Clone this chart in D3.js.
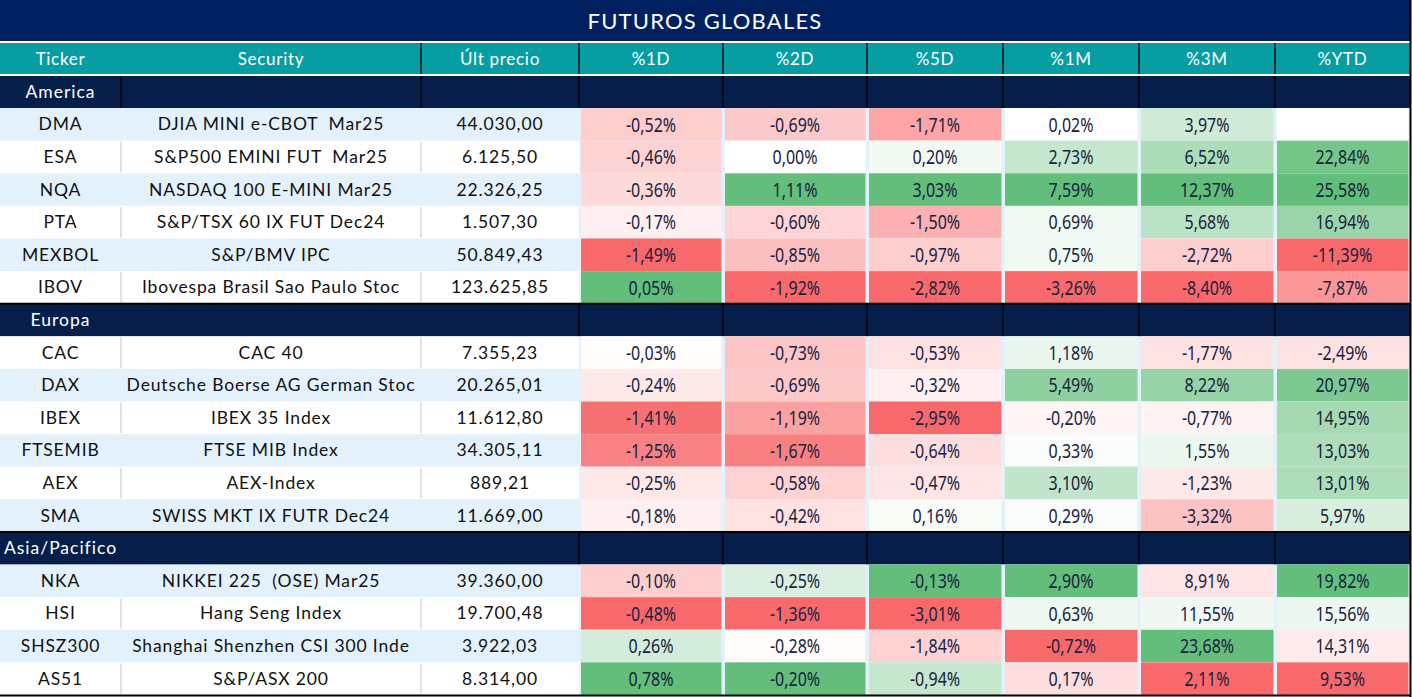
<!DOCTYPE html>
<html><head><meta charset="utf-8">
<script src="https://cdn.jsdelivr.net/npm/d3@7"></script>
<style>body{margin:0;background:#fff} text{white-space:pre}</style>
</head><body>
<svg id="c" width="1412" height="697"></svg>
<script>
const title = "FUTUROS GLOBALES";
const headers = ["Ticker","Security","Últ precio","%1D","%2D","%5D","%1M","%3M","%YTD"];
const groupNames = ["America","Europa","Asia/Pacifico"];
const groupSizes = [6,6,4];
const tickers = ["DMA","ESA","NQA","PTA","MEXBOL","IBOV","CAC","DAX","IBEX","FTSEMIB","AEX","SMA","NKA","HSI","SHSZ300","AS51"];
const securities = ["DJIA MINI e-CBOT  Mar25","S&P500 EMINI FUT  Mar25","NASDAQ 100 E-MINI Mar25","S&P/TSX 60 IX FUT Dec24","S&P/BMV IPC","Ibovespa Brasil Sao Paulo Stoc",
  "CAC 40","Deutsche Boerse AG German Stoc","IBEX 35 Index","FTSE MIB Index","AEX-Index","SWISS MKT IX FUTR Dec24",
  "NIKKEI 225  (OSE) Mar25","Hang Seng Index","Shanghai Shenzhen CSI 300 Inde","S&P/ASX 200"];
const prices = [44030.00,6125.50,22326.25,1507.30,50849.43,123625.85,7355.23,20265.01,11612.80,34305.11,889.21,11669.00,39360.00,19700.48,3922.03,8314.00];
const pct1D = [-0.52,-0.46,-0.36,-0.17,-1.49,0.05,-0.03,-0.24,-1.41,-1.25,-0.25,-0.18,-0.10,-0.48,0.26,0.78];
const pct2D = [-0.69,0.00,1.11,-0.60,-0.85,-1.92,-0.73,-0.69,-1.19,-1.67,-0.58,-0.42,-0.25,-1.36,-0.28,-0.20];
const pct5D = [-1.71,0.20,3.03,-1.50,-0.97,-2.82,-0.53,-0.32,-2.95,-0.64,-0.47,0.16,-0.13,-3.01,-1.84,-0.94];
const pct1M = [0.02,2.73,7.59,0.69,0.75,-3.26,1.18,5.49,-0.20,0.33,3.10,0.29,2.90,0.63,-0.72,0.17];
const pct3M = [3.97,6.52,12.37,5.68,-2.72,-8.40,-1.77,8.22,-0.77,1.55,-1.23,-3.32,8.91,11.55,23.68,2.11];
const pctYTD = [null,22.84,25.58,16.94,-11.39,-7.87,-2.49,20.97,14.95,13.03,13.01,5.97,19.82,15.56,14.31,9.53];
// conditional-format intensity (-1 = full red, 0 = white, 1 = full green)
const heat1D = [-0.34,-0.3,-0.25,-0.1,-1,1, -0.02,-0.15,-0.95,-0.84,-0.16,-0.1, -0.33,-1,0.28,1];
const heat2D = [-0.36,0,1,-0.28,-0.43,-1, -0.38,-0.37,-0.63,-0.85,-0.3,-0.2, 0.24,-1,-0.02,1];
const heat5D = [-0.6,0.08,1,-0.53,-0.33,-1, -0.2,-0.1,-1,-0.22,-0.18,0.05, 1,-1,-0.3,0.37];
const heat1M = [0,0.37,1,0.09,0.09,-1, 0.14,0.72,-0.07,0.04,0.4,0.04, 1,0.11,-1,-0.22];
const heat3M = [0.31,0.53,1,0.44,-0.33,-1, -0.2,0.67,-0.08,0.12,-0.15,-0.4, -0.18,0.1,1,-1];
const heatYTD = [null,0.9,1,0.65,-1,-0.7, -0.2,0.83,0.58,0.52,0.52,0.25, 1,0.12,-0.13,-1];

const pctCols = [pct1D,pct2D,pct5D,pct1M,pct3M,pctYTD];
const heatCols = [heat1D,heat2D,heat5D,heat1M,heat3M,heatYTD];

// ---- layout ----
const colEdges = [0,121,421,579,723,867,1003,1139,1275,1410];
const W = 1410;
const navyTitle = "#002060", navyGroup = "#051F4A", teal = "#069EA3", rowBlue = "#E3F1FC";

const es = d3.formatLocale({decimal:",", thousands:".", grouping:[3], currency:["","€"], minus:"-"});
const fmtPrice = es.format(",.2f");
const fmtPct = v => es.format(".2f")(v) + "%";
const heatColor = d3.scaleLinear().domain([-1,0,1]).range(["#F8696B","#FFFFFF","#63BE7B"]).clamp(true);

// build row list
const rows = [];
let k = 0;
groupNames.forEach((g,gi) => {
  rows.push({type:"group", name:g, gi});
  for (let j=0;j<groupSizes[gi];j++,k++) rows.push({type:"data", i:k, gi, j});
});

const y = d3.scaleBand().domain(d3.range(rows.length)).range([75.5, 695]).padding(0);
const colX = d3.scaleOrdinal().domain(d3.range(9)).range(colEdges.slice(0,9));
const colW = d3.scaleOrdinal().domain(d3.range(9)).range(d3.range(9).map(c => colEdges[c+1]-colEdges[c]));
const cx = c => colX(c) + colW(c)/2;
const bw = y.bandwidth();
const ty = bw/2 - 0.5;

const svg = d3.select("#c");
const textFont = "Lato, 'Open Sans', sans-serif";
const numFont = "'Noto Sans', 'Open Sans', sans-serif";

// title
svg.append("rect").attr("x",0).attr("y",0).attr("width",W).attr("height",41).attr("fill",navyTitle);
svg.append("text").attr("x",W/2).attr("y",20).attr("text-anchor","middle").attr("dominant-baseline","central")
  .attr("fill","#fff").attr("font-family",textFont).attr("font-size",22).attr("letter-spacing",1.2).text(title);

// header
svg.append("rect").attr("x",0).attr("y",43).attr("width",W).attr("height",31).attr("fill",teal);
svg.selectAll("text.h").data(headers).join("text").attr("class","h")
  .attr("x",(d,c)=>cx(c)).attr("y",58).attr("text-anchor","middle").attr("dominant-baseline","central")
  .attr("fill","#fff").attr("font-family",textFont).attr("font-size",17).attr("letter-spacing",0.7).text(d=>d);
svg.selectAll("line.hs").data(d3.range(2,9)).join("line").attr("class","hs")
  .attr("x1",c=>colX(c)).attr("x2",c=>colX(c)).attr("y1",43).attr("y2",74)
  .attr("stroke","#111").attr("stroke-width",1.5);

// rows
const rg = svg.selectAll("g.row").data(rows).join("g").attr("class","row")
  .attr("transform",(d,r)=>`translate(0,${y(r)})`);

// group rows
const gr = rg.filter(d=>d.type==="group");
gr.append("rect").attr("x",0).attr("y",d=>d.gi===0?0.5:0).attr("width",W).attr("height",d=>d.gi===0?bw-0.5:bw).attr("fill",navyGroup);
gr.filter(d=>d.gi>0).append("rect").attr("x",0).attr("y",-1).attr("width",W).attr("height",2).attr("fill","#000");
gr.each(function(d){
  const edges = d.gi===0 ? [1,2,3,4,5,6,7,8] : [3,4,5,6,7,8];
  d3.select(this).selectAll("line").data(edges).join("line")
    .attr("x1",c=>colX(c)).attr("x2",c=>colX(c)).attr("y1",d.gi===0?0.5:1).attr("y2",bw)
    .attr("stroke","#000").attr("stroke-width",1.3);
});
gr.append("text").attr("x",cx(0)).attr("y",ty).attr("text-anchor","middle").attr("dominant-baseline","central")
  .attr("fill","#fff").attr("font-family",textFont).attr("font-size",17.5).attr("letter-spacing",1).text(d=>d.name);

// data rows
const dr = rg.filter(d=>d.type==="data");
dr.append("rect").attr("x",0).attr("y",0).attr("width",colEdges[3]).attr("height",bw)
  .attr("fill",d=> d.j%2===0 ? (d.gi===1 ? "#fff" : rowBlue) : (d.gi===1 ? rowBlue : "#fff"));
dr.append("rect").attr("x",colEdges[3]).attr("y",0).attr("width",W-colEdges[3]).attr("height",bw).attr("fill",rowBlue);
dr.filter(d => (d.gi===1) === (d.j%2===0)).selectAll("line.sep").data([1,2]).join("line").attr("class","sep")
  .attr("x1",c=>colX(c)).attr("x2",c=>colX(c)).attr("y1",1).attr("y2",bw-1)
  .attr("stroke","#D6D8DB").attr("stroke-width",1.5);

const bodyText = (sel, col, fn) => sel.append("text").attr("x",cx(col)).attr("y",ty)
  .attr("text-anchor","middle").attr("dominant-baseline","central")
  .attr("fill","#111").attr("font-family",textFont).attr("font-size",17.5).attr("letter-spacing",0.85).text(fn);
bodyText(dr, 0, d=>tickers[d.i]);
bodyText(dr, 1, d=>securities[d.i]);
bodyText(dr, 2, d=>fmtPrice(prices[d.i]));

dr.each(function(d){
  const g = d3.select(this);
  const cells = pctCols.map((col,ci)=>({c:ci+3, v:col[d.i], h:heatCols[ci][d.i]}));
  g.selectAll("rect.cell").data(cells).join("rect").attr("class","cell")
    .attr("x",e=>colX(e.c)+2).attr("y",0).attr("width",e=>colW(e.c)-3.5).attr("height",bw)
    .attr("fill",e=> e.h==null ? "#fff" : heatColor(e.h));
  g.selectAll("text.val").data(cells.filter(e=>e.v!=null)).join("text").attr("class","val")
    .attr("transform",e=>`translate(${cx(e.c)},${ty}) scale(0.8,1)`)
    .attr("text-anchor","middle").attr("dominant-baseline","central")
    .attr("fill","#18223F").attr("font-family",numFont).attr("font-size",20).text(e=>fmtPct(e.v));
});

// borders
svg.append("rect").attr("x",0).attr("y",694.5).attr("width",W+1).attr("height",2).attr("fill","#000");
svg.append("rect").attr("x",1409.5).attr("y",0).attr("width",2).attr("height",697).attr("fill","#000");
</script>
</body></html>
